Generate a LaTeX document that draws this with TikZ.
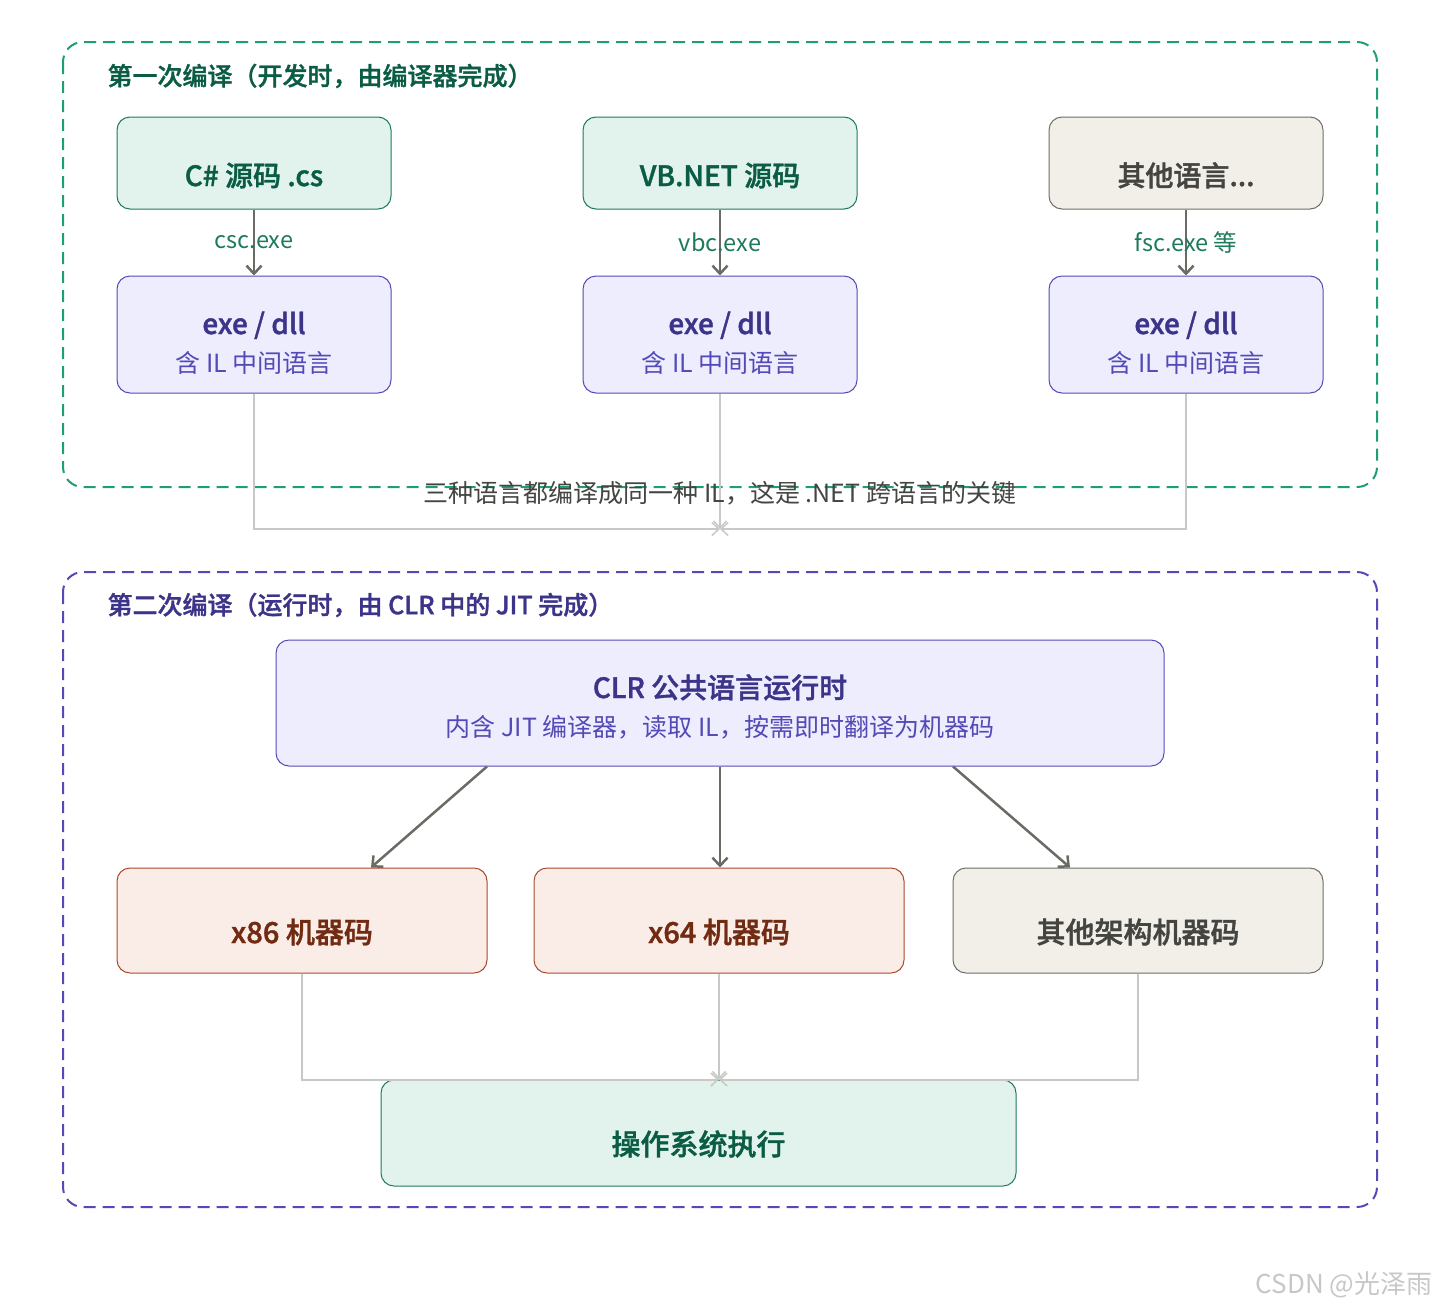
\documentclass[tikz,border=0pt]{standalone}
\usepackage{fontspec}
\setmainfont{Noto Sans CJK SC}[BoldFont={Noto Sans CJK SC Medium}, BoldFeatures={FakeBold=1.3}]
\usepackage{xcolor}
\usetikzlibrary{arrows.meta}
\definecolor{grnfill}{HTML}{E1F3EC}
\definecolor{grnline}{HTML}{1D7A5C}
\definecolor{grntext}{HTML}{0B5C45}
\definecolor{grndash}{HTML}{1D9E75}
\definecolor{purfill}{HTML}{EEEDFE}
\definecolor{purline}{HTML}{534AB7}
\definecolor{purdark}{HTML}{3C3489}
\definecolor{corfill}{HTML}{FAECE7}
\definecolor{corline}{HTML}{A8492A}
\definecolor{cortext}{HTML}{712B13}
\definecolor{gryfill}{HTML}{F1EFE8}
\definecolor{gryline}{HTML}{6E6D68}
\definecolor{grytext}{HTML}{444441}
\definecolor{arrdark}{HTML}{6B6B66}
\definecolor{arrlite}{HTML}{C8C8C4}
\newcommand{\fs}[1]{\fontsize{#1}{#1}\selectfont}
% 两行文字：标题 + 说明
\newcommand{\twoline}[2]{{\fontsize{28}{38}\selectfont
  \begin{tabular}[t]{@{}c@{}}{\bfseries\color{purdark}#1}\\{\fs{25}\color{purline}#2}\end{tabular}}}

\begin{document}
\begin{tikzpicture}[x=1pt, y=-1pt,
  box/.style={draw, rounded corners=13pt, line width=1pt, inner sep=0pt},
  toprow/.style={box, minimum width=274pt, minimum height=92pt,
    text height=69pt, text depth=23pt, font=\fs{28}\bfseries},
  ilrow/.style={box, minimum width=274pt, minimum height=117pt,
    text height=58pt, text depth=59pt, fill=purfill, draw=purline},
  archrow/.style={box, minimum width=370pt, minimum height=105pt,
    text height=75pt, text depth=30pt, font=\fs{29}\bfseries},
  grnbox/.style={fill=grnfill, draw=grnline, text=grntext},
  corbox/.style={fill=corfill, draw=corline, text=cortext},
  grybox/.style={fill=gryfill, draw=gryline, text=grytext},
  flow/.style={draw=arrdark, line width=2.5pt, -{Straight Barb[length=8pt,width=15pt,line width=2.5pt]}},
  mergeline/.style={draw=arrlite, line width=2pt, -{Straight Barb[length=7pt,width=13pt,line width=1.5pt]}},
  lbl/.style={text=grnline, font=\fs{23.5}},
  title/.style={anchor=west, font=\fs{25}\bfseries},
  frame/.style={line width=2pt, rounded corners=20pt, dash pattern=on 12pt off 7pt}]
  \useasboundingbox (0,0) rectangle (1440,1312);

  % 两个编译阶段
  \draw[frame, draw=grndash] (63,42) rectangle (1377,487);
  \draw[frame, draw=purline] (63,572) rectangle (1377,1207);
  \node[title, text=grntext] (t1) at (104,76) {第一次编译（开发时，由编译器完成）};
  \node[title, text=purdark] (t2) at (104,605) {第二次编译（运行时，由 CLR 中的 JIT 完成）};

  % 源码
  \node[toprow, grnbox] (cs) at (254,163) {C\# 源码 .cs};
  \node[toprow, grnbox] (vb) at (720,163) {VB.NET 源码};
  \node[toprow, grybox] (oth) at (1186,163) {其他语言...};

  % exe / dll
  \foreach \n/\x in {il1/254, il2/720, il3/1186}
    \node[ilrow] (\n) at (\x,334.5) {\twoline{exe / dll}{含 IL 中间语言}};

  \draw[flow] (cs) -- node[lbl] {csc.exe} (il1);
  \draw[flow] (vb) -- node[lbl] {vbc.exe} (il2);
  \draw[flow] (oth) -- node[lbl] {fsc.exe 等} (il3);

  % 汇合
  \coordinate (join1) at (720,529);
  \draw[mergeline] (il1.south) |- (join1);
  \draw[mergeline] (il2.south) -- (join1);
  \draw[mergeline] (il3.south) |- (join1);
  \node[text=grytext, font=\fs{25}] (key) at (720,493)
    {三种语言都编译成同一种 IL，这是 .NET 跨语言的关键};

  % CLR
  \node[box, fill=purfill, draw=purline, minimum width=888pt, minimum height=126pt,
    text height=58pt, text depth=68pt] (clr)
    at (720,703) {\twoline{CLR 公共语言运行时}{内含 JIT 编译器，读取 IL，按需即时翻译为机器码}};

  \node[archrow, corbox] (x86) at (302,920.5) {x86 机器码};
  \node[archrow, corbox] (x64) at (719,920.5) {x64 机器码};
  \node[archrow, grybox] (arm) at (1138,920.5) {其他架构机器码};

  \draw[flow] ([xshift=-233pt]clr.south) -- ([xshift=69pt]x86.north);
  \draw[flow] (clr.south) -- (clr.south |- x64.north);
  \draw[flow] ([xshift=233pt]clr.south) -- ([xshift=-68pt]arm.north);

  % 操作系统
  \node[box, grnbox, minimum width=635pt, minimum height=106pt,
    text height=75pt, text depth=31pt, font=\fs{29}\bfseries] (os) at (698.5,1133) {操作系统执行};
  \coordinate (join2) at (x64.south |- os.north);
  \draw[mergeline] (x86.south) |- (join2);
  \draw[mergeline] (x64.south) -- (join2);
  \draw[mergeline] (arm.south) |- (join2);

  \node[anchor=east, text=black!22, font=\fs{26}] (mark) at (1436,1285) {CSDN @光泽雨};
\end{tikzpicture}
\end{document}
